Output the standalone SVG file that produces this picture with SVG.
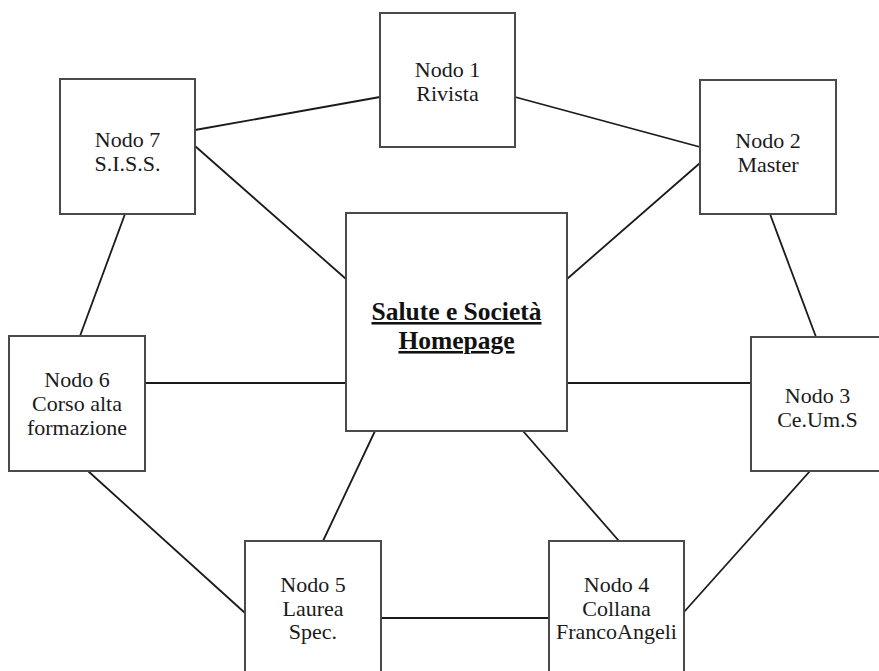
<svg xmlns="http://www.w3.org/2000/svg" width="879" height="671" viewBox="0 0 879 671">
<style>
.box{fill:#fff;stroke:#4a4a4a;stroke-width:2}
.ln{stroke:#1a1a1a;stroke-width:1.8;fill:none}
.t{font-family:"Liberation Serif","Times New Roman",serif;font-size:22px;fill:#1a1a1a;text-anchor:middle}
.c{font-family:"Liberation Serif","Times New Roman",serif;font-size:25.5px;font-weight:bold;fill:#111;text-anchor:middle;text-decoration:underline}
</style>
<rect width="879" height="671" fill="#fff"/>
<g id="connectors">
<line class="ln" x1="380" y1="97" x2="195" y2="130"/>
<line class="ln" x1="515" y1="97" x2="700" y2="147"/>
<line class="ln" x1="700" y1="163" x2="567" y2="279"/>
<line class="ln" x1="195" y1="146" x2="346" y2="279"/>
<line class="ln" x1="770" y1="214" x2="816" y2="337"/>
<line class="ln" x1="125" y1="214" x2="80" y2="336"/>
<line class="ln" x1="145" y1="383" x2="346" y2="383"/>
<line class="ln" x1="567" y1="383" x2="751" y2="383"/>
<line class="ln" x1="375" y1="431" x2="323" y2="541"/>
<line class="ln" x1="523" y1="431" x2="619" y2="541"/>
<line class="ln" x1="381" y1="618" x2="549" y2="618"/>
<line class="ln" x1="88" y1="471" x2="245" y2="613"/>
<line class="ln" x1="810" y1="471" x2="684" y2="612"/>
</g>
<g id="center">
<rect class="box" x="346" y="213" width="221" height="218"/>
<text class="c" x="456.5" y="320">Salute e Società</text>
<text class="c" x="456.5" y="349">Homepage</text>
</g>
<g id="node1">
<rect class="box" x="380" y="13" width="135" height="134"/>
<text class="t" x="447.5" y="77">Nodo 1</text>
<text class="t" x="447.5" y="101">Rivista</text>
</g>
<g id="node2">
<rect class="box" x="700" y="80" width="136" height="134"/>
<text class="t" x="768" y="148">Nodo 2</text>
<text class="t" x="768" y="172">Master</text>
</g>
<g id="node3">
<rect class="box" x="751" y="337" width="134" height="134"/>
<text class="t" x="817.5" y="403">Nodo 3</text>
<text class="t" x="817.5" y="427">Ce.Um.S</text>
</g>
<g id="node4">
<rect class="box" x="549" y="541" width="135" height="135"/>
<text class="t" x="616.5" y="592">Nodo 4</text>
<text class="t" x="616.5" y="616">Collana</text>
<text class="t" x="616.5" y="639">FrancoAngeli</text>
</g>
<g id="node5">
<rect class="box" x="245" y="541" width="136" height="135"/>
<text class="t" x="313" y="592">Nodo 5</text>
<text class="t" x="313" y="616">Laurea</text>
<text class="t" x="313" y="639">Spec.</text>
</g>
<g id="node6">
<rect class="box" x="9" y="336" width="136" height="135"/>
<text class="t" x="77" y="387">Nodo 6</text>
<text class="t" x="77" y="411">Corso alta</text>
<text class="t" x="77" y="435">formazione</text>
</g>
<g id="node7">
<rect class="box" x="60" y="79" width="135" height="135"/>
<text class="t" x="127.5" y="147">Nodo 7</text>
<text class="t" x="127.5" y="171">S.I.S.S.</text>
</g>
</svg>
